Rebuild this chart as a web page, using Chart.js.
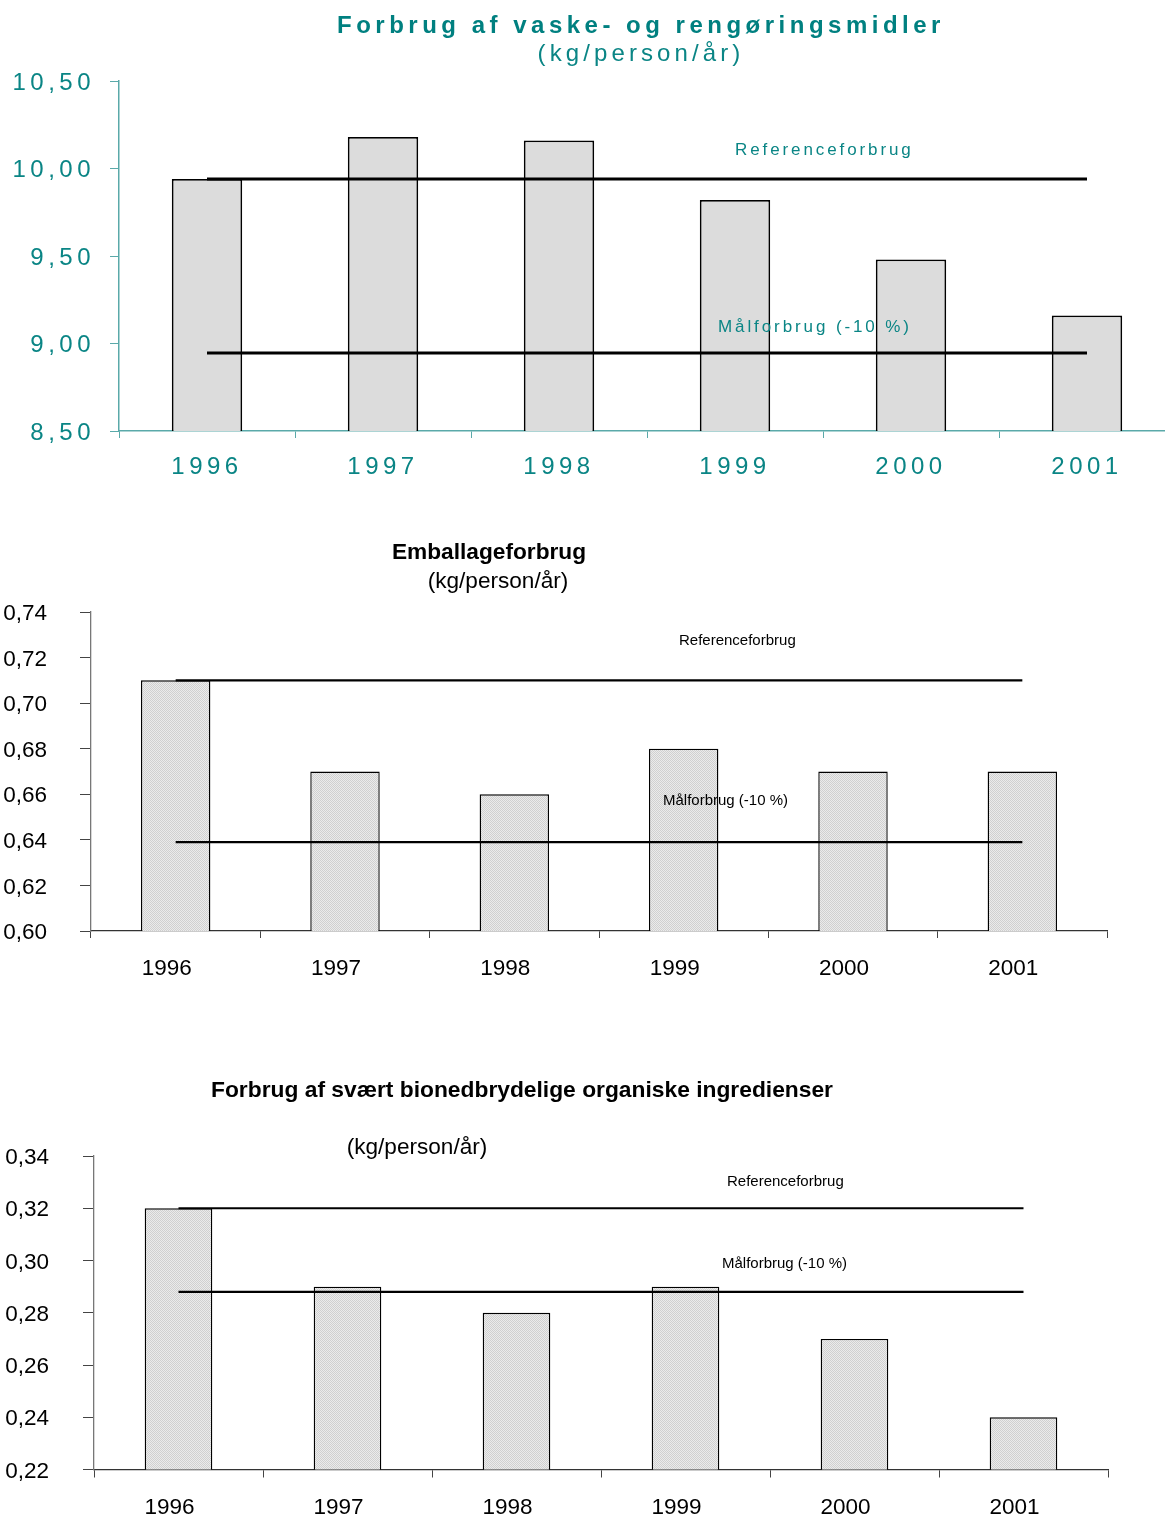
<!DOCTYPE html>
<html>
<head>
<meta charset="utf-8">
<script src="https://cdn.jsdelivr.net/npm/chart.js@4.4.1/dist/chart.umd.min.js"></script>
<style>
  html, body { margin: 0; padding: 0; background: #fff; overflow: hidden; }
  .box { position: absolute; left: 0; }
</style>
</head>
<body>
<div class="box" style="top:0"><canvas id="vaske" width="1175" height="495"></canvas></div>
<div class="box" style="top:500px"><canvas id="emballage" width="1165" height="500"></canvas></div>
<div class="box" style="top:1040px"><canvas id="bio" width="1165" height="477"></canvas></div>
<script>
const years = ['1996', '1997', '1998', '1999', '2000', '2001'];

// Forbrug af vaske- og rengøringsmidler
const vaskeValues = [9.94, 10.18, 10.16, 9.82, 9.48, 9.16];
const vaskeReference = [9.94, 9.94, 9.94, 9.94, 9.94, 9.94];
const vaskeTarget = [8.946, 8.946, 8.946, 8.946, 8.946, 8.946];

// Emballageforbrug
const emballageValues = [0.71, 0.67, 0.66, 0.68, 0.67, 0.67];
const emballageReference = [0.71, 0.71, 0.71, 0.71, 0.71, 0.71];
const emballageTarget = [0.639, 0.639, 0.639, 0.639, 0.639, 0.639];

// Forbrug af svært bionedbrydelige organiske ingredienser
const bioValues = [0.32, 0.29, 0.28, 0.29, 0.27, 0.24];
const bioReference = [0.32, 0.32, 0.32, 0.32, 0.32, 0.32];
const bioTarget = [0.288, 0.288, 0.288, 0.288, 0.288, 0.288];

const FAMILY = '"Liberation Sans", Arial, sans-serif';
const TEAL = '#0a8585';
const TEAL_AXIS = '#5aa9a9';

const commaTick = (v) => Number(v).toFixed(2).replace('.', ',');

// titles and line captions, drawn on top of the bars
const chartTextPlugin = {
  id: 'chartText',
  beforeDraw(chart, args, opts) {
    chart.ctx.letterSpacing = opts.spacing || '0px';
  },
  afterDatasetsDraw(chart, args, opts) {
    const ctx = chart.ctx;
    const yAxis = chart.scales.y;
    ctx.save();
    ctx.textBaseline = 'middle';
    (opts.titles || []).forEach((t) => {
      ctx.font = t.font;
      ctx.fillStyle = t.color;
      ctx.letterSpacing = t.spacing || '0px';
      ctx.textAlign = 'center';
      ctx.fillText(t.text, t.x, t.y);
    });
    (opts.notes || []).forEach((n) => {
      ctx.font = n.font;
      ctx.fillStyle = n.color;
      ctx.letterSpacing = n.spacing || '0px';
      ctx.textAlign = 'left';
      ctx.fillText(n.text, n.x, yAxis.getPixelForValue(n.value) - n.above);
    });
    ctx.restore();
  },
};
Chart.register(chartTextPlugin);

function checkerFill(canvasId) {
  const tile = document.createElement('canvas');
  tile.width = 2;
  tile.height = 2;
  const t = tile.getContext('2d');
  t.fillStyle = '#ebebeb';
  t.fillRect(0, 0, 2, 2);
  t.fillStyle = '#d0d0d0';
  t.fillRect(0, 0, 1, 1);
  t.fillRect(1, 1, 1, 1);
  return document.getElementById(canvasId).getContext('2d').createPattern(tile, 'repeat');
}

function lineSet(data, width) {
  return {
    type: 'line',
    data,
    borderColor: '#000',
    borderWidth: width,
    pointRadius: 0,
    fill: false,
    tension: 0,
    order: 0,
  };
}

function barSet(data, fill, width, pct) {
  return {
    type: 'bar',
    data,
    backgroundColor: fill,
    borderColor: '#000',
    borderWidth: width,
    borderSkipped: false,
    barPercentage: pct,
    categoryPercentage: 1,
    order: 1,
  };
}

// chart 1
new Chart(document.getElementById('vaske'), {
  type: 'bar',
  data: {
    labels: years,
    datasets: [
      barSet(vaskeValues, '#dcdcdc', 1.8, 0.4),
      lineSet(vaskeReference, 3),
      lineSet(vaskeTarget, 3),
    ],
  },
  options: {
    responsive: false,
    animation: false,
    layout: { padding: { top: 81, left: 0, right: 0, bottom: 0 } },
    scales: {
      x: {
        grid: { drawOnChartArea: false, tickLength: 7, color: TEAL_AXIS, offset: true },
        border: { color: TEAL_AXIS, width: 1.5 },
        ticks: { color: TEAL, font: { family: FAMILY, size: 24 }, padding: 15 },
        afterFit(s) { s.height = 64; },
      },
      y: {
        min: 8.5,
        max: 10.5,
        grid: { drawOnChartArea: false, tickLength: 9, color: TEAL_AXIS },
        border: { color: TEAL_AXIS, width: 1.5 },
        ticks: { stepSize: 0.5, color: TEAL, font: { family: FAMILY, size: 24 }, padding: 15, labelOffset: 2, callback: commaTick },
        afterFit(s) { s.width = 119; },
      },
    },
    plugins: {
      legend: { display: false },
      tooltip: { enabled: false },
      chartText: {
        spacing: '4.5px',
        titles: [
          { text: 'Forbrug af vaske- og rengøringsmidler', x: 641, y: 26, font: `bold 24px ${FAMILY}`, color: '#008080', spacing: '4.5px' },
          { text: '(kg/person/år)', x: 641, y: 54, font: `24px ${FAMILY}`, color: TEAL, spacing: '4.1px' },
        ],
        notes: [
          { text: 'Referenceforbrug', value: 9.94, above: 29, x: 735, font: `17px ${FAMILY}`, color: TEAL, spacing: '2.9px' },
          { text: 'Målforbrug (-10 %)', value: 8.946, above: 26, x: 718, font: `17px ${FAMILY}`, color: TEAL, spacing: '2.9px' },
        ],
      },
    },
  },
});

// chart 2
new Chart(document.getElementById('emballage'), {
  type: 'bar',
  data: {
    labels: years,
    datasets: [
      barSet(emballageValues, checkerFill('emballage'), 1.4, 0.41),
      lineSet(emballageReference, 2.2),
      lineSet(emballageTarget, 2.2),
    ],
  },
  options: {
    responsive: false,
    animation: false,
    layout: { padding: { top: 112, left: 0, right: 58, bottom: 0 } },
    scales: {
      x: {
        grid: { drawOnChartArea: false, tickLength: 7, color: '#444', offset: true },
        border: { color: '#333', width: 1.3 },
        ticks: { color: '#000', font: { family: FAMILY, size: 22.5 }, padding: 17, labelOffset: -9 },
        afterFit(s) { s.height = 69; },
      },
      y: {
        min: 0.6,
        max: 0.74,
        grid: { drawOnChartArea: false, tickLength: 11, color: '#444' },
        border: { color: '#777', width: 1.3 },
        ticks: { stepSize: 0.02, color: '#000', font: { family: FAMILY, size: 22.5 }, padding: 33, labelOffset: 2, callback: commaTick },
        afterFit(s) { s.width = 91; },
      },
    },
    plugins: {
      legend: { display: false },
      tooltip: { enabled: false },
      chartText: {
        titles: [
          { text: 'Emballageforbrug', x: 489, y: 53, font: `bold 22.7px ${FAMILY}`, color: '#000' },
          { text: '(kg/person/år)', x: 498, y: 82, font: `22.6px ${FAMILY}`, color: '#000' },
        ],
        notes: [
          { text: 'Referenceforbrug', value: 0.71, above: 39, x: 679, font: `15px ${FAMILY}`, color: '#000' },
          { text: 'Målforbrug (-10 %)', value: 0.639, above: 41, x: 663, font: `15px ${FAMILY}`, color: '#000' },
        ],
      },
    },
  },
});

// chart 3
new Chart(document.getElementById('bio'), {
  type: 'bar',
  data: {
    labels: years,
    datasets: [
      barSet(bioValues, checkerFill('bio'), 1.4, 0.4),
      lineSet(bioReference, 2.2),
      lineSet(bioTarget, 2.2),
    ],
  },
  options: {
    responsive: false,
    animation: false,
    layout: { padding: { top: 116, left: 0, right: 57, bottom: 0 } },
    scales: {
      x: {
        grid: { drawOnChartArea: false, tickLength: 8, color: '#444', offset: true },
        border: { color: '#333', width: 1.3 },
        ticks: { color: '#000', font: { family: FAMILY, size: 22.5 }, padding: 17, labelOffset: -9 },
        afterFit(s) { s.height = 45; },
      },
      y: {
        min: 0.22,
        max: 0.34,
        grid: { drawOnChartArea: false, tickLength: 11, color: '#444' },
        border: { color: '#777', width: 1.3 },
        ticks: { stepSize: 0.02, color: '#000', font: { family: FAMILY, size: 22.5 }, padding: 34, labelOffset: 2, callback: commaTick },
        afterFit(s) { s.width = 94; },
      },
    },
    plugins: {
      legend: { display: false },
      tooltip: { enabled: false },
      chartText: {
        titles: [
          { text: 'Forbrug af svært bionedbrydelige organiske ingredienser', x: 522, y: 51, font: `bold 22.8px ${FAMILY}`, color: '#000' },
          { text: '(kg/person/år)', x: 417, y: 108, font: `22.6px ${FAMILY}`, color: '#000' },
        ],
        notes: [
          { text: 'Referenceforbrug', value: 0.32, above: 26, x: 727, font: `15px ${FAMILY}`, color: '#000' },
          { text: 'Målforbrug (-10 %)', value: 0.288, above: 28, x: 722, font: `15px ${FAMILY}`, color: '#000' },
        ],
      },
    },
  },
});
</script>
</body>
</html>
